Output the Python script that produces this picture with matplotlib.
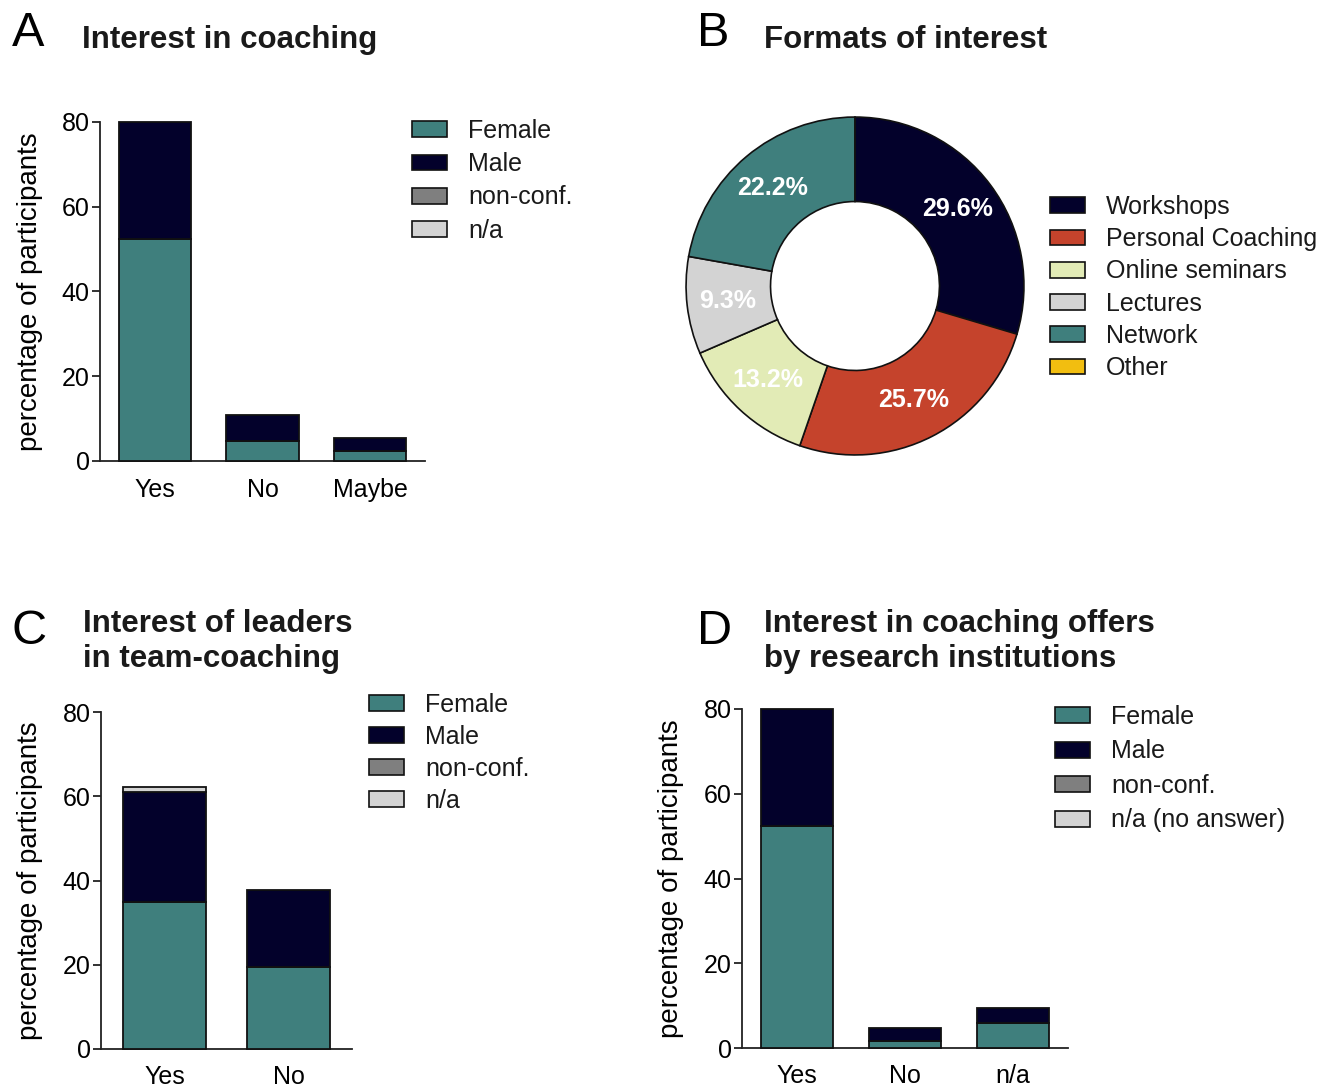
import numpy as np
import matplotlib
matplotlib.use("Agg")
import matplotlib.pyplot as plt
from matplotlib.patches import Patch

plt.rcParams['font.family'] = ['Liberation Sans', 'DejaVu Sans']

W, H = 1334, 1088
fig = plt.figure(figsize=(W / 100, H / 100), dpi=100)

# ---- data -------------------------------------------------------------
gender_labels = ['Female', 'Male', 'non-conf.', 'n/a']
gender_labels_d = ['Female', 'Male', 'non-conf.', 'n/a (no answer)']
gender_colors = ['#3F7F7D', '#03012B', '#7F7F7F', '#D3D3D3']

# A: interest in coaching
a_categories = ['Yes', 'No', 'Maybe']
a_female = [52.3, 4.7, 2.3]
a_male = [27.7, 6.1, 3.2]
a_nonconf = [0.0, 0.0, 0.0]
a_na = [0.0, 0.0, 0.0]

# B: formats of interest
b_formats = ['Workshops', 'Personal Coaching', 'Online seminars',
             'Lectures', 'Network', 'Other']
b_shares = [29.6, 25.7, 13.2, 9.3, 22.2, 0.0]
b_colors = ['#03012B', '#C5432C', '#E2EBB6', '#D3D3D3', '#3F7F7D', '#F2BE10']

# C: interest of leaders in team-coaching
c_categories = ['Yes', 'No']
c_female = [34.9, 19.4]
c_male = [26.1, 18.3]
c_nonconf = [0.0, 0.0]
c_na = [1.1, 0.0]

# D: interest in coaching offers by research institutions
d_categories = ['Yes', 'No', 'n/a']
d_female = [52.4, 1.6, 5.8]
d_male = [27.6, 3.2, 3.6]
d_nonconf = [0.0, 0.0, 0.0]
d_na = [0.0, 0.0, 0.0]

EDGE = '#111111'
FS = 18


def px_axes(left, top, right, bottom):
    return fig.add_axes([left / W, 1 - bottom / H, (right - left) / W, (bottom - top) / H])


def add_legend(ax, handles, labels, x, y, spacing):
    ax.legend(handles, labels, loc='upper left', bbox_to_anchor=(x / W, 1 - y / H),
              bbox_transform=fig.transFigure, frameon=False, borderaxespad=0,
              borderpad=0, handlelength=1.4, handleheight=0.6, handletextpad=0.85,
              labelspacing=spacing, fontsize=FS, labelcolor='#1a1a1a')


def stacked_panel(ax, cats, series, labels, label_x, xpad, legend_xy, spacing):
    x = np.arange(len(cats))
    bottom = np.zeros(len(cats))
    for vals, color in zip(series, gender_colors):
        vals = np.asarray(vals, dtype=float)
        keep = vals > 0
        if keep.any():
            ax.bar(x[keep], vals[keep], 0.67, bottom=bottom[keep], color=color,
                   edgecolor=EDGE, linewidth=1.3, clip_on=False, zorder=3)
        bottom += vals
    ax.set_xticks(x, cats)
    ax.set_xlim(-0.51, len(cats) - 1 + 0.51)
    ax.set_ylim(0, 80)
    ax.set_yticks([0, 20, 40, 60, 80])
    for s in ('top', 'right'):
        ax.spines[s].set_visible(False)
    for s in ('left', 'bottom'):
        ax.spines[s].set_linewidth(1.3)
        ax.spines[s].set_color('#222222')
    ax.tick_params(axis='y', length=6, width=1.3, pad=1.5, labelsize=FS, color='#222222')
    ax.tick_params(axis='x', length=0, pad=xpad, labelsize=FS)
    ax.set_ylabel('percentage of participants', fontsize=20)
    ax.yaxis.set_label_coords(label_x, 0.5)
    handles = [Patch(facecolor=c, edgecolor=EDGE, linewidth=1.2) for c in gender_colors]
    add_legend(ax, handles, labels, *legend_xy, spacing)


# ---- panel A ----------------------------------------------------------
axa = px_axes(100, 122, 425, 461)
stacked_panel(axa, a_categories, [a_female, a_male, a_nonconf, a_na], gender_labels,
              -0.175, 12, (412, 119), 0.37)

# ---- panel C ----------------------------------------------------------
axc = px_axes(101, 712, 352, 1049)
stacked_panel(axc, c_categories, [c_female, c_male, c_nonconf, c_na], gender_labels,
              -0.231, 11.5, (369, 693), 0.32)

# ---- panel D ----------------------------------------------------------
axd = px_axes(742, 709, 1068, 1048)
stacked_panel(axd, d_categories, [d_female, d_male, d_nonconf, d_na], gender_labels_d,
              -0.178, 11.5, (1055, 705), 0.42)

# ---- panel B: donut ---------------------------------------------------
axb = px_axes(682, 113, 1028, 459)
wedges, _, autotexts = axb.pie(
    b_shares, colors=b_colors, startangle=90, counterclock=False, radius=1,
    wedgeprops=dict(width=0.5, edgecolor=EDGE, linewidth=1.2),
    autopct=lambda p: f'{p:.1f}%' if p > 0 else '', pctdistance=0.76,
    textprops=dict(color='white', fontsize=18, fontweight='bold'))
axb.set_xlim(-1.024, 1.024)
axb.set_ylim(-1.024, 1.024)
axb.set_aspect('equal')
add_legend(axb, wedges, b_formats, 1050, 195, 0.33)

# ---- panel letters and titles -----------------------------------------
for letter, x, y in (('A', 12, 33), ('B', 697, 33), ('C', 12, 632), ('D', 697, 632)):
    fig.text(x / W, 1 - y / H, letter, fontsize=35, ha='left', va='center')

title_kw = dict(fontsize=22.5, fontweight='bold', ha='left', va='center', color='#1a1a1a')
fig.text(82 / W, 1 - 40 / H, 'Interest in coaching', **title_kw)
fig.text(764 / W, 1 - 40 / H, 'Formats of interest', **title_kw)
fig.text(83 / W, 1 - 624 / H, 'Interest of leaders', **title_kw)
fig.text(83 / W, 1 - 659 / H, 'in team-coaching', **title_kw)
fig.text(764 / W, 1 - 624 / H, 'Interest in coaching offers', **title_kw)
fig.text(764 / W, 1 - 659 / H, 'by research institutions', **title_kw)

fig.savefig('out.png', dpi=100)
